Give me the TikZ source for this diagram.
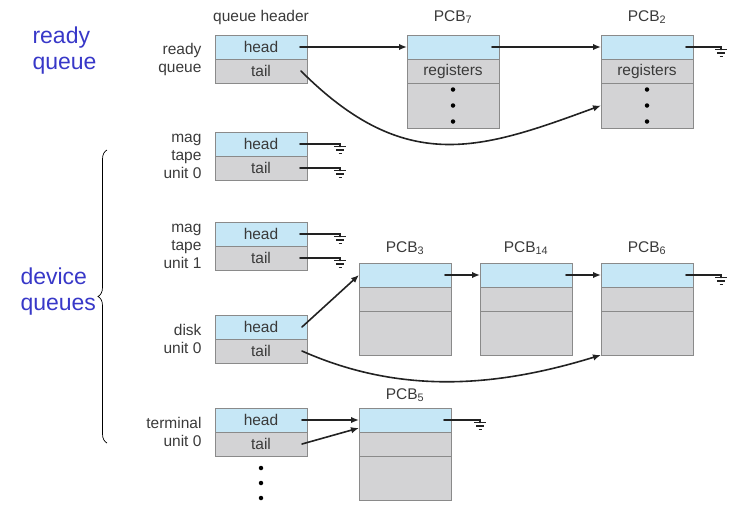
\documentclass[tikz,border=0pt]{standalone}
\usepackage{fontspec}
\setmainfont{Liberation Sans}
\usepackage{tikz}
\usetikzlibrary{positioning,arrows.meta,decorations.pathreplacing}
\definecolor{cellblue}{HTML}{C6E7F6}
\definecolor{cellgray}{HTML}{D3D3D5}
\definecolor{frame}{HTML}{8A8A8A}
\definecolor{ink}{HTML}{3A3A3A}
\definecolor{wirec}{HTML}{222222}
\definecolor{hlblue}{HTML}{3838C8}
\newcommand{\cellfont}{\fontsize{15.5}{18}\selectfont}
\newcommand{\bluefont}{\fontsize{23}{26}\selectfont}
\tikzset{
  cell/.style={draw=frame, line width=1pt, minimum width=92pt, inner sep=0pt, outer sep=0pt, text=ink, font=\cellfont},
  hd/.style={cell, fill=cellblue, minimum height=24pt},
  tl/.style={cell, fill=cellgray, minimum height=24pt},
  rest/.style={cell, fill=cellgray, minimum height=#1},
  wire/.style={draw=wirec, line width=1.6pt, line cap=round},
  arr/.style={wire, -{Latex[length=8pt,width=6.5pt]}},
  dot/.style={circle, fill=black, inner sep=0pt, minimum size=4.5pt},
  lab/.style={text=ink, font=\cellfont, align=right, anchor=east},
  pcb/.style={text=ink, font=\cellfont, anchor=base},
  big/.style={text=hlblue, font=\bluefont, align=left, anchor=west},
  gnd/.pic={
    \draw[wire] (0,0) -- (2,0) -- (2,2.5);
    \draw[wire, line width=1.4pt, line cap=butt] (-4,2.5) -- (8,2.5) (-2,6) -- (6,6) (0.5,9.5) -- (3.5,9.5);
  },
}

\begin{document}
\begin{tikzpicture}[x=1pt, y=-1pt]
  \useasboundingbox (0,0) rectangle (729,504);

  % left side labels
  \node[big] (rdy) at (29,51) {ready\\queue};
  \node[big] (dev) at (17,292) {device\\queues};
  \draw[decorate, decoration={brace, amplitude=9pt}, line width=0.7pt] (107,443) -- (107,150);

  % queue headers
  \node[hd, anchor=north west] (rqh) at (215,35) {head};
  \node[tl, below=0pt of rqh] (rqt) {tail};
  \node[pcb] at ([yshift=14pt]rqh.north) {queue header};
  \node[lab] at ([xshift=-10pt]rqh.south west) {ready\\queue};

  \node[hd, anchor=north west] (m0h) at (215,132) {head};
  \node[tl, below=0pt of m0h] (m0t) {tail};
  \node[lab] at ([xshift=-10pt]m0h.south west) {mag\\tape\\unit 0};

  \node[hd, anchor=north west] (m1h) at (215,222) {head};
  \node[tl, below=0pt of m1h] (m1t) {tail};
  \node[lab] at ([xshift=-10pt]m1h.south west) {mag\\tape\\unit 1};

  \node[hd, anchor=north west] (dkh) at (215,315) {head};
  \node[tl, below=0pt of dkh] (dkt) {tail};
  \node[lab] at ([xshift=-10pt]dkh.south west) {disk\\unit 0};

  \node[hd, anchor=north west] (tmh) at (215,408) {head};
  \node[tl, below=0pt of tmh] (tmt) {tail};
  \node[lab] at ([xshift=-10pt]tmh.south west) {terminal\\unit 0};
  \foreach \d in {12,27,42}
    \node[dot] at ([yshift=-\d pt]tmt.south) {};

  % ready queue PCBs
  \node[hd, anchor=north west] (pcb7h) at (407,35) {};
  \node[tl, below=0pt of pcb7h] (pcb7r) {registers};
  \node[rest=45pt, below=0pt of pcb7r] (pcb7x) {};
  \node[pcb] at ([yshift=14pt]pcb7h.north) {PCB\textsubscript{7}};

  \node[hd, anchor=north west] (pcb2h) at (601,35) {};
  \node[tl, below=0pt of pcb2h] (pcb2r) {registers};
  \node[rest=45pt, below=0pt of pcb2r] (pcb2x) {};
  \node[pcb] at ([yshift=14pt]pcb2h.north) {PCB\textsubscript{2}};

  \foreach \n in {pcb7x,pcb2x}
    \foreach \d in {-16,0,16}
      \node[dot] at ([yshift=\d pt]\n.center) {};

  % disk PCBs
  \node[hd, anchor=north west] (pcb3h) at (359,263) {};
  \node[tl, below=0pt of pcb3h] (pcb3r) {};
  \node[rest=44pt, below=0pt of pcb3r] (pcb3x) {};
  \node[pcb] at ([yshift=11pt]pcb3h.north) {PCB\textsubscript{3}};

  \node[hd, anchor=north west] (pcb14h) at (480,263) {};
  \node[tl, below=0pt of pcb14h] (pcb14r) {};
  \node[rest=44pt, below=0pt of pcb14r] (pcb14x) {};
  \node[pcb] at ([yshift=11pt]pcb14h.north) {PCB\textsubscript{14}};

  \node[hd, anchor=north west] (pcb6h) at (601,263) {};
  \node[tl, below=0pt of pcb6h] (pcb6r) {};
  \node[rest=44pt, below=0pt of pcb6r] (pcb6x) {};
  \node[pcb] at ([yshift=11pt]pcb6h.north) {PCB\textsubscript{6}};

  % terminal PCB
  \node[hd, anchor=north west] (pcb5h) at (359,408) {};
  \node[tl, below=0pt of pcb5h] (pcb5r) {};
  \node[rest=44pt, below=0pt of pcb5r] (pcb5x) {};
  \node[pcb] at ([yshift=9pt]pcb5h.north) {PCB\textsubscript{5}};

  % links
  \draw[arr] ([xshift=-7pt]rqh.east) -- (pcb7h.west);
  \draw[arr] ([xshift=-7pt]pcb7h.east) -- (pcb2h.west);
  \draw[arr] ([xshift=-6pt]rqt.east) .. controls +(105,105) and +(-120,44) .. (pcb2x.west);

  \draw[arr] ([xshift=-5pt]dkh.east) -- (pcb3h.west);
  \draw[arr] ([xshift=-6pt]pcb3h.east) -- (pcb14h.west);
  \draw[arr] ([xshift=-6pt]pcb14h.east) -- (pcb6h.west);
  \draw[arr] ([xshift=-5pt]dkt.east) .. controls +(99,44) and +(-104,32) .. (pcb6x.south west);

  \draw[arr] ([xshift=-5pt]tmh.east) -- (pcb5h.west);
  \draw[arr] ([xshift=-5pt]tmt.east) -- ([yshift=-8pt]pcb5h.west);

  % null pointers
  \foreach \n in {m0h,m0t,m1h,m1t} {
    \coordinate (g\n) at ([xshift=31pt]\n.east);
    \draw[wire] ([xshift=-7pt]\n.east) -- (g\n) pic {gnd};
  }
  \foreach \n in {pcb2h,pcb6h} {
    \coordinate (g\n) at ([xshift=26pt]\n.east);
    \draw[wire] ([xshift=-7pt]\n.east) -- (g\n) pic {gnd};
  }
  \coordinate (gpcb5h) at ([xshift=27pt]pcb5h.east);
  \draw[wire] ([xshift=-7pt]pcb5h.east) -- (gpcb5h) pic {gnd};
\end{tikzpicture}
\end{document}
